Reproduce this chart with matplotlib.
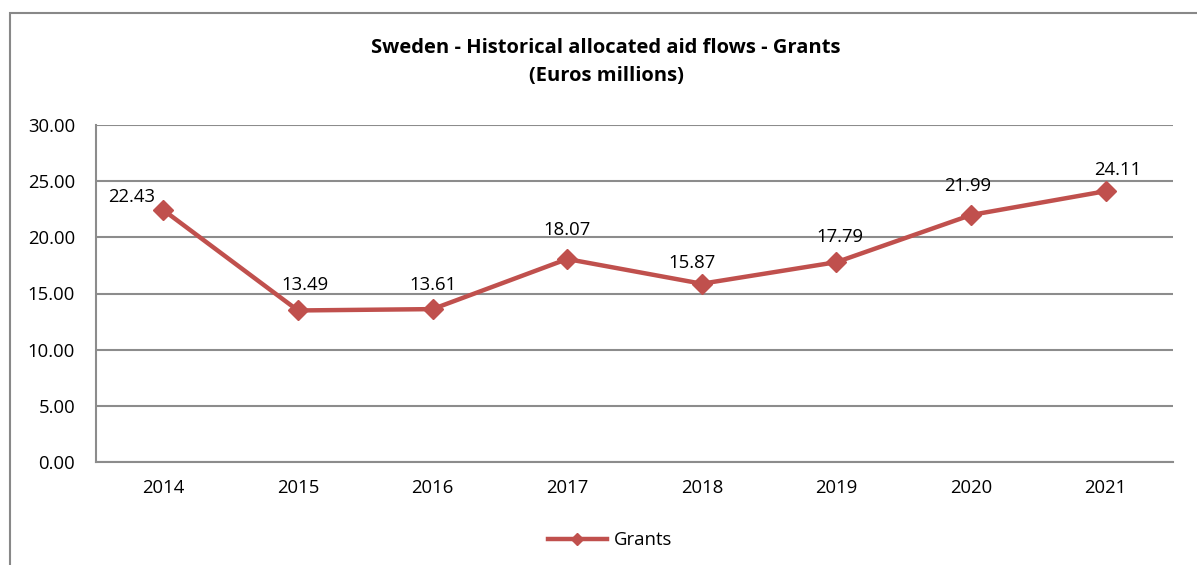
import numpy as np
import matplotlib.pyplot as plt
from matplotlib.patches import Rectangle
from matplotlib.lines import Line2D

years = ['2014', '2015', '2016', '2017', '2018', '2019', '2020', '2021']
grants = [22.43, 13.49, 13.61, 18.07, 15.87, 17.79, 21.99, 24.11]

# label offsets in pixels (dx, dy)
offs = [(-32, 13), (7, 25), (0, 24), (0, 29), (-10, 21), (3, 25), (-3, 29), (12, 21)]

W, H = 1197, 565
fig = plt.figure(figsize=(W / 100, H / 100), dpi=100)
plt.rcParams['font.family'] = ['Open Sans', 'DejaVu Sans']
fs = 13.3

# outer chart border (cropped at right and bottom)
fig.patches.append(Rectangle((10 / W, -0.1), 1.2, 1.1 - 13 / H,
                             transform=fig.transFigure, fill=False,
                             edgecolor='#888888', lw=1.5))

ax = fig.add_axes([96 / W, 1 - 462 / H, (1173 - 96) / W, (462 - 125) / H])
x = np.arange(len(years))
col = '#C0504D'
ax.plot(x, grants, color=col, lw=3.2, marker='D', ms=10.5)

for i, v in enumerate(grants):
    ax.annotate('%.2f' % v, (x[i], v), xytext=offs[i], textcoords='offset pixels',
                ha='center', va='center', fontsize=fs)

ax.set_xlim(-0.5, len(years) - 0.5)
ax.set_ylim(0, 30)
ax.set_yticks(np.arange(0, 31, 5))
ax.set_yticklabels(['%.2f' % t for t in np.arange(0, 31, 5)], fontsize=fs)
ax.set_xticks(x)
ax.set_xticklabels(years, fontsize=fs)
ax.tick_params(axis='x', length=0, pad=12)
ax.tick_params(axis='y', length=0, pad=15)
ax.grid(axis='y', color='#8c8c8c', lw=1.5)
ax.set_axisbelow(True)
for s in ['top', 'right']:
    ax.spines[s].set_visible(False)
for s in ['left', 'bottom']:
    ax.spines[s].set_color('#8c8c8c')
    ax.spines[s].set_linewidth(1.5)

fig.text(606 / W, 1 - 62 / H, 'Sweden - Historical allocated aid flows - Grants\n(Euros millions)',
         ha='center', va='center', fontsize=14.5, fontweight='bold', linespacing=1.55)

handle = Line2D([], [], color=col, lw=3.2, marker='D', ms=6.5)
fig.legend([handle], ['Grants'], loc='center', bbox_to_anchor=(610 / W, 1 - 540 / H),
           frameon=False, fontsize=fs, handlelength=3.2, handletextpad=0.4)

fig.savefig('out.png', dpi=100)
